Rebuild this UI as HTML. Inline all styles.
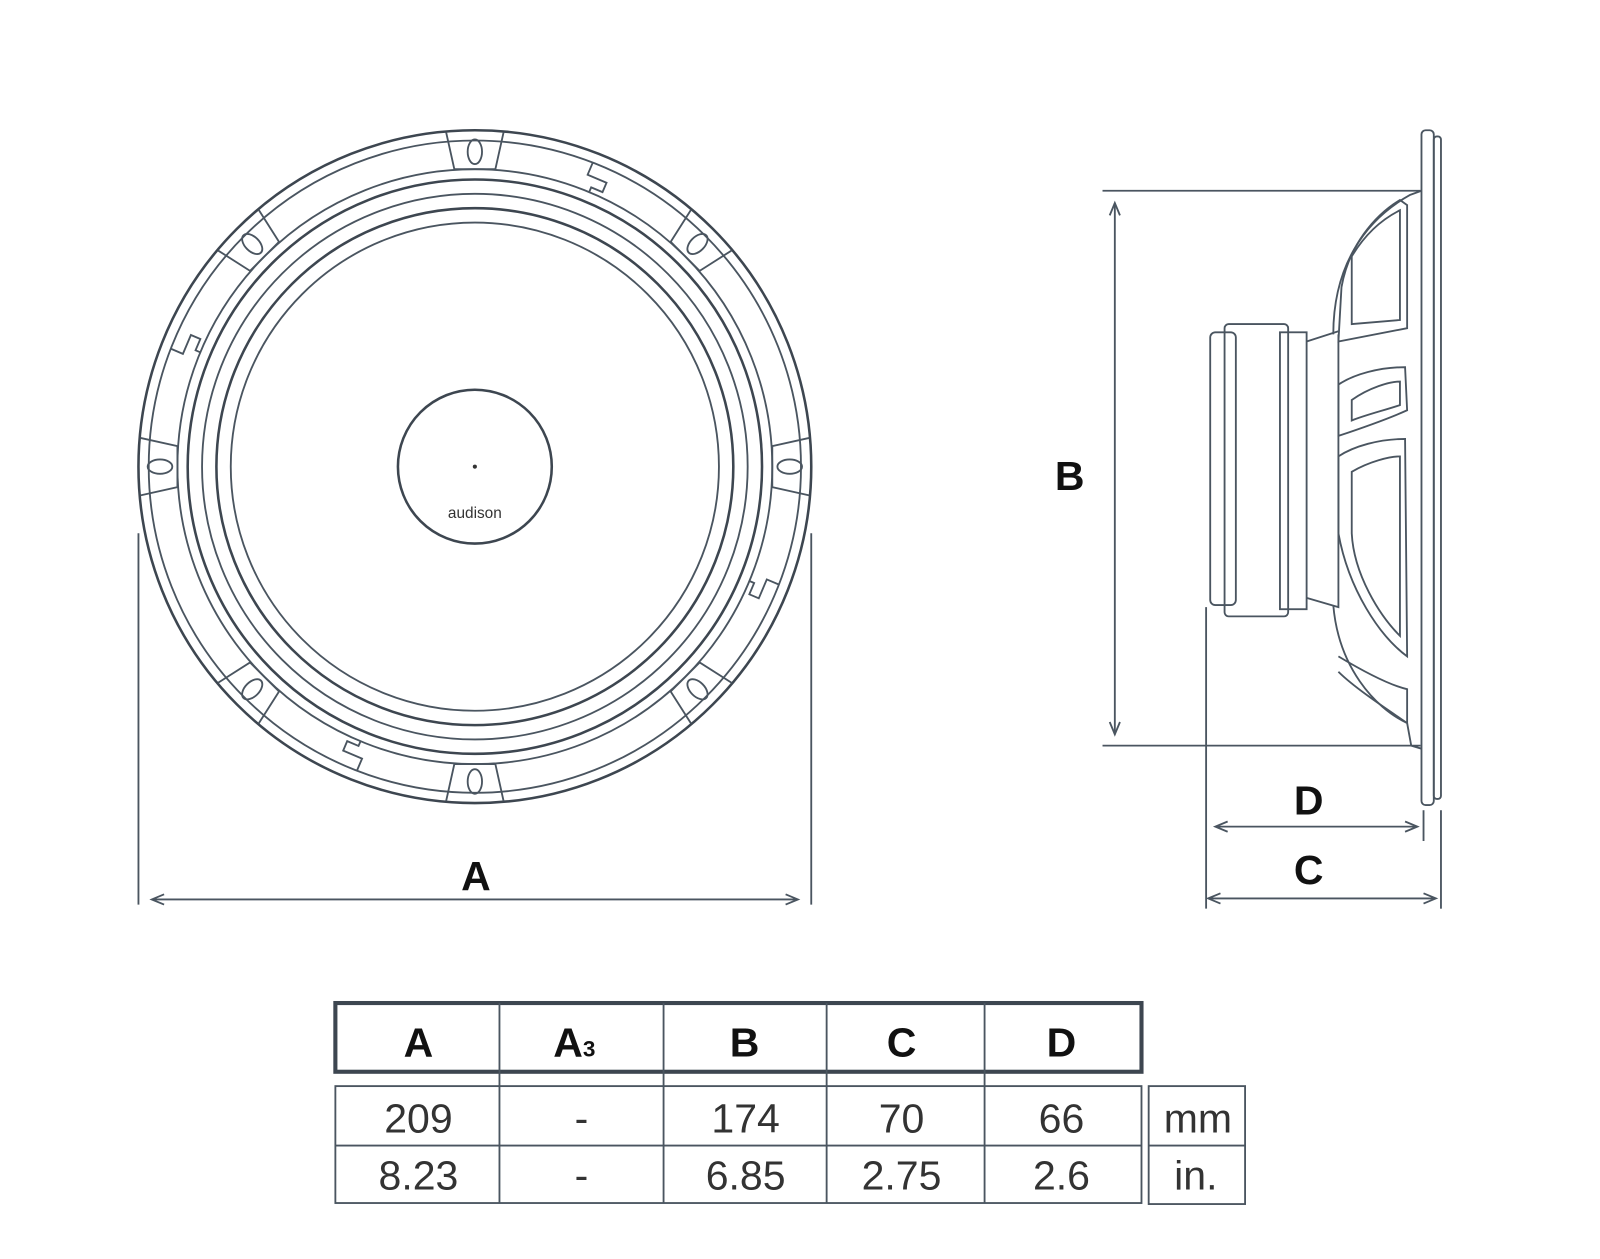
<!DOCTYPE html>
<html><head><style>
html,body{margin:0;padding:0;background:#fff;}
svg{display:block;}
.l{fill:none;stroke:#3d4650;stroke-width:2.5;}
.t{fill:none;stroke:#4a5560;stroke-width:1.8;}
.b{font-family:"Liberation Sans",sans-serif;font-weight:bold;fill:#111;}
.n{font-family:"Liberation Sans",sans-serif;fill:#333;}
</style></head><body>
<svg width="1600" height="1259" viewBox="0 0 1600 1259" xmlns="http://www.w3.org/2000/svg">
<g transform="scale(1.0256)">
<!-- FRONT VIEW -->
<g transform="translate(463,455)">
<circle r="328" class="l" stroke-width="4"/>
<circle r="318" class="t"/>
<circle r="290" class="t"/>
<circle r="280" class="l"/>
<circle r="266" class="t"/>
<circle r="252" class="l"/>
<circle r="238" class="t"/>
<circle r="75" class="l"/>
<circle r="2" fill="#333"/>
<text x="0" y="50" text-anchor="middle" class="n" font-size="15">audison</text>
<g>
<g transform="rotate(0)"><path d="M-28,-326 L-20,-290 L20,-290 L28,-326" class="t"/><ellipse cx="0" cy="-307" rx="7" ry="12" class="t"/></g>
<g transform="rotate(45)"><path d="M-28,-326 L-20,-290 L20,-290 L28,-326" class="t"/><ellipse cx="0" cy="-307" rx="7" ry="12" class="t"/></g>
<g transform="rotate(90)"><path d="M-28,-326 L-20,-290 L20,-290 L28,-326" class="t"/><ellipse cx="0" cy="-307" rx="7" ry="12" class="t"/></g>
<g transform="rotate(135)"><path d="M-28,-326 L-20,-290 L20,-290 L28,-326" class="t"/><ellipse cx="0" cy="-307" rx="7" ry="12" class="t"/></g>
<g transform="rotate(180)"><path d="M-28,-326 L-20,-290 L20,-290 L28,-326" class="t"/><ellipse cx="0" cy="-307" rx="7" ry="12" class="t"/></g>
<g transform="rotate(225)"><path d="M-28,-326 L-20,-290 L20,-290 L28,-326" class="t"/><ellipse cx="0" cy="-307" rx="7" ry="12" class="t"/></g>
<g transform="rotate(270)"><path d="M-28,-326 L-20,-290 L20,-290 L28,-326" class="t"/><ellipse cx="0" cy="-307" rx="7" ry="12" class="t"/></g>
<g transform="rotate(315)"><path d="M-28,-326 L-20,-290 L20,-290 L28,-326" class="t"/><ellipse cx="0" cy="-307" rx="7" ry="12" class="t"/></g>
</g>
<g transform="rotate(23)"><path d="M-10,-318 L-10,-305 L10,-305 L10,-295 L-2,-295 L-2,-290" class="t"/></g>
<g transform="rotate(113)"><path d="M-10,-318 L-10,-305 L10,-305 L10,-295 L-2,-295 L-2,-290" class="t"/></g>
<g transform="rotate(203)"><path d="M-10,-318 L-10,-305 L10,-305 L10,-295 L-2,-295 L-2,-290" class="t"/></g>
<g transform="rotate(293)"><path d="M-10,-318 L-10,-305 L10,-305 L10,-295 L-2,-295 L-2,-290" class="t"/></g>
</g>
<!-- A dimension -->
<line x1="135" y1="520" x2="135" y2="882" class="t"/>
<line x1="791" y1="520" x2="791" y2="882" class="t"/>
<line x1="150" y1="877" x2="776" y2="877" class="t"/>
<path d="M160,872 L148,877 L160,882 M766,872 L778,877 L766,882" class="t"/>
<text x="464" y="868" text-anchor="middle" class="b" font-size="40">A</text>

<!-- SIDE VIEW -->
<rect x="1386" y="127" width="12" height="658" rx="4" class="t"/>
<rect x="1398" y="133" width="7" height="646" rx="3" class="t"/>
<line x1="1075" y1="186" x2="1385" y2="186" class="t"/>
<line x1="1075" y1="727" x2="1385" y2="727" class="t"/>
<line x1="1087" y1="198" x2="1087" y2="716" class="t"/>
<path d="M1082,210 L1087,198 L1092,210 M1082,704 L1087,716 L1092,704" class="t"/>
<text x="1043" y="478" text-anchor="middle" class="b" font-size="40">B</text>
<path d="M1300,326 C1300,260 1330,215 1375,190 L1386,186 M1300,590 C1305,650 1340,690 1372,705 L1376,727 L1386,730" class="t"/>
<path d="M1305,333 L1308,280 C1315,240 1340,210 1365,195 L1372,200 L1372,320 Z" class="t"/>
<path d="M1318,316 L1318,250 C1330,230 1345,215 1365,205 L1365,312 Z" class="t"/>
<path d="M1305,375 C1320,365 1345,358 1370,358 L1372,400 C1350,410 1320,420 1305,425 Z" class="t"/>
<path d="M1318,390 C1335,378 1355,372 1365,372 L1365,395 C1350,400 1330,405 1318,410 Z" class="t"/>
<path d="M1305,445 C1320,435 1345,428 1370,428 L1372,640 C1345,620 1315,575 1305,520 Z" class="t"/>
<path d="M1318,460 C1335,450 1355,445 1365,445 L1365,620 C1345,600 1320,560 1318,520 Z" class="t"/>
<path d="M1305,640 C1330,655 1355,668 1372,672 L1372,705 C1350,690 1320,670 1305,655" class="t"/>
<rect x="1180" y="324" width="25" height="266" rx="5" class="t"/>
<rect x="1194" y="316" width="62" height="285" rx="4" class="t"/>
<rect x="1248" y="324" width="26" height="270" class="t"/>
<path d="M1274,333 L1305,323 M1274,583 L1305,592 L1305,326" class="t"/>
<line x1="1176" y1="592" x2="1176" y2="886" class="t"/>
<line x1="1388" y1="790" x2="1388" y2="820" class="t"/>
<line x1="1405" y1="790" x2="1405" y2="886" class="t"/>
<line x1="1187" y1="806" x2="1380" y2="806" class="t"/>
<path d="M1197,801 L1185,806 L1197,811 M1370,801 L1382,806 L1370,811" class="t"/>
<line x1="1180" y1="876" x2="1398" y2="876" class="t"/>
<path d="M1190,871 L1178,876 L1190,881 M1388,871 L1400,876 L1388,881" class="t"/>
<text x="1276" y="794" text-anchor="middle" class="b" font-size="40">D</text>
<text x="1276" y="862" text-anchor="middle" class="b" font-size="40">C</text>

<!-- TABLE -->
<rect x="327" y="978" width="786" height="67" fill="none" stroke="#3d4650" stroke-width="4"/>
<g class="t">
<rect x="327" y="1059" width="786" height="114"/>
<line x1="327" y1="1117" x2="1113" y2="1117"/>
<rect x="1120" y="1059" width="94" height="115"/>
<line x1="1120" y1="1117" x2="1214" y2="1117"/>
<line x1="487" y1="978" x2="487" y2="1173"/>
<line x1="647" y1="978" x2="647" y2="1173"/>
<line x1="806" y1="978" x2="806" y2="1173"/>
<line x1="960" y1="978" x2="960" y2="1173"/>
</g>
<g text-anchor="middle" class="b" font-size="40">
<text x="408" y="1030">A</text>
<text x="560" y="1030">A<tspan font-size="22">3</tspan></text>
<text x="726" y="1030">B</text>
<text x="879" y="1030">C</text>
<text x="1035" y="1030">D</text>
</g>
<g text-anchor="middle" class="n" font-size="40">
<text x="408" y="1104">209</text><text x="567" y="1104">-</text><text x="727" y="1104">174</text><text x="879" y="1104">70</text><text x="1035" y="1104">66</text><text x="1168" y="1104">mm</text>
<text x="408" y="1160">8.23</text><text x="567" y="1160">-</text><text x="727" y="1160">6.85</text><text x="879" y="1160">2.75</text><text x="1035" y="1160">2.6</text><text x="1166" y="1160">in.</text>
</g>
</g>
</svg>
</body></html>
